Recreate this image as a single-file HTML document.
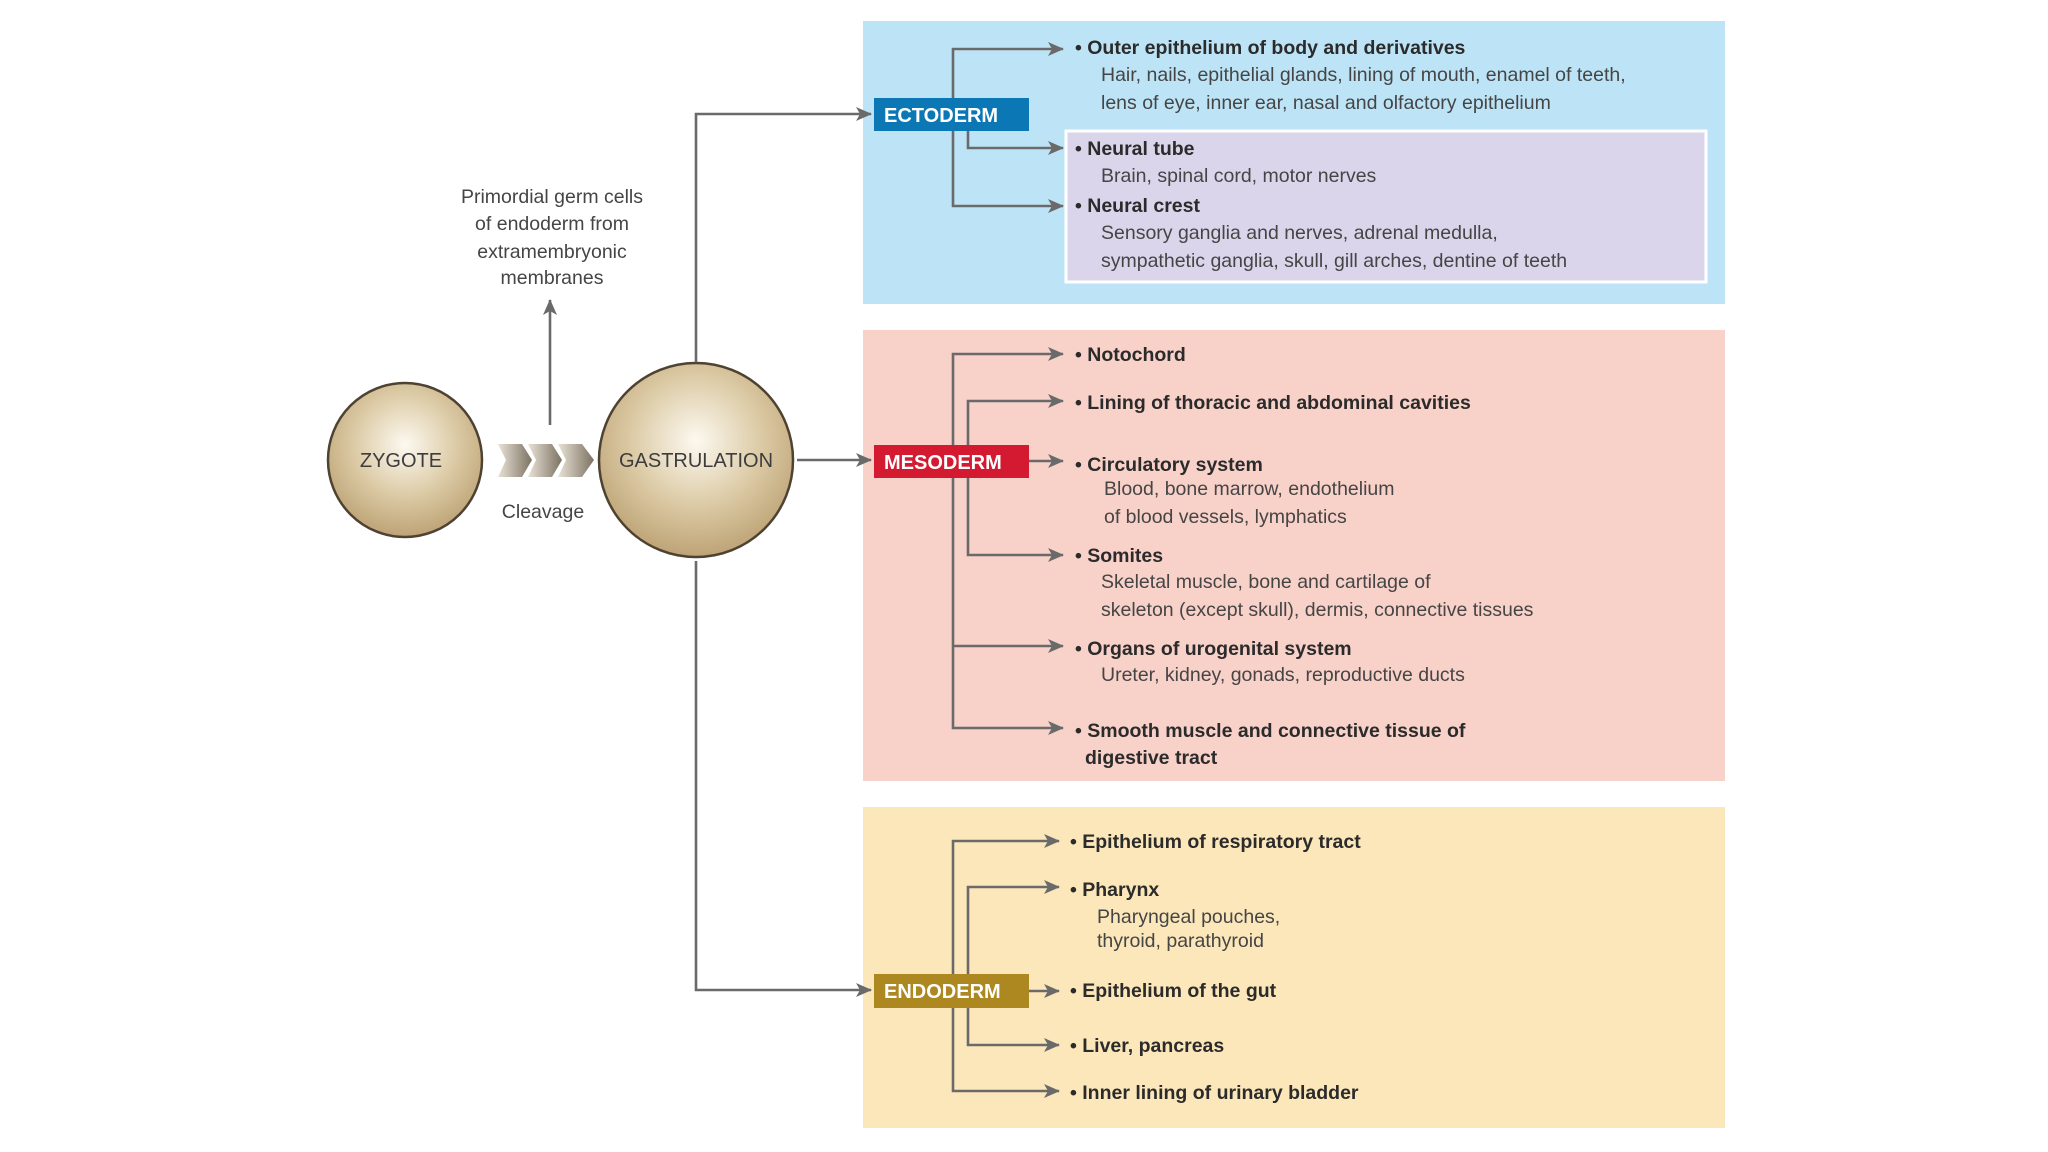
<!DOCTYPE html>
<html><head><meta charset="utf-8"><style>
html,body{margin:0;padding:0;background:#fff;width:2048px;height:1152px;overflow:hidden}
svg text{font-family:"Liberation Sans",sans-serif}
.b{font-weight:bold;font-size:19.5px;fill:#2b2b2b}
.s{font-size:19.5px;fill:#454545}
.lbl{font-weight:bold;font-size:20px;fill:#fff}
.c{fill:none;stroke:#6a6a6a;stroke-width:2.6}
</style></head><body>
<svg width="2048" height="1152" viewBox="0 0 2048 1152" xmlns="http://www.w3.org/2000/svg">
<defs>
<radialGradient id="g" cx="50%" cy="40%" r="60%">
<stop offset="0" stop-color="#fdf9f1"/><stop offset="0.55" stop-color="#dccba6"/><stop offset="1" stop-color="#bea376"/>
</radialGradient>
<linearGradient id="ch" x1="0" x2="1"><stop offset="0" stop-color="#e8e2d6"/><stop offset="1" stop-color="#7d7262"/></linearGradient>
<marker id="a" markerWidth="10" markerHeight="10" refX="9" refY="5" orient="auto" markerUnits="userSpaceOnUse"><path d="M0,0 L16,5 L0,10 Z" transform="scale(0.6,1)" fill="#6a6a6a"/></marker>
<marker id="ar" markerWidth="16" markerHeight="14" refX="15" refY="7" orient="auto" markerUnits="userSpaceOnUse"><path d="M0,0 L16,7 L0,14 L4,7 Z" fill="#6a6a6a"/></marker>
</defs>

<!-- boxes -->
<rect x="863" y="21" width="862" height="283" fill="#bde4f6"/>
<rect x="1066" y="131" width="640" height="151" fill="#dad5eb" stroke="#fff" stroke-width="3"/>
<rect x="863" y="330" width="862" height="451" fill="#f8d1c9"/>
<rect x="863" y="807" width="862" height="321" fill="#fce7ba"/>

<!-- left part -->
<circle cx="405" cy="460" r="77" fill="url(#g)" stroke="#4e4232" stroke-width="2.5"/>
<text x="401" y="467" font-size="20" fill="#3d3d3d" text-anchor="middle">ZYGOTE</text>
<circle cx="696" cy="460" r="97" fill="url(#g)" stroke="#4e4232" stroke-width="2.5"/>
<text x="696" y="467" font-size="20" fill="#3d3d3d" text-anchor="middle">GASTRULATION</text>
<g fill="url(#ch)">
<path d="M498,444 L522,444 L532,460 L522,477 L498,477 L506,460 Z"/>
<path d="M528,444 L552,444 L562,460 L552,477 L528,477 L536,460 Z"/>
<path d="M558,444 L582,444 L594,460 L582,477 L558,477 L566,460 Z"/>
</g>
<text x="543" y="518" font-size="19.5" fill="#454545" text-anchor="middle">Cleavage</text>
<line x1="550" y1="425" x2="550" y2="300" class="c" marker-end="url(#ar)"/>
<g font-size="19.5" fill="#454545" text-anchor="middle">
<text x="552" y="203">Primordial germ cells</text>
<text x="552" y="230">of endoderm from</text>
<text x="552" y="258">extramembryonic</text>
<text x="552" y="284">membranes</text>
</g>
<path d="M696,362 V114 H871" class="c" marker-end="url(#ar)"/>
<path d="M797,460 H871" class="c" marker-end="url(#ar)"/>
<path d="M696,561 V990 H871" class="c" marker-end="url(#ar)"/>

<!-- labels -->
<rect x="874" y="98" width="155" height="33" fill="#0b78b5"/>
<text x="884" y="122" class="lbl">ECTODERM</text>
<rect x="874" y="445" width="155" height="33" fill="#d41a30"/>
<text x="884" y="469" class="lbl">MESODERM</text>
<rect x="874" y="974" width="155" height="34" fill="#ad871f"/>
<text x="884" y="998" class="lbl">ENDODERM</text>

<!-- ecto connectors -->
<path d="M953,98 V49 H1063" class="c" marker-end="url(#ar)"/>
<path d="M953,131 V206 H1063" class="c" marker-end="url(#ar)"/>
<path d="M968,131 V148 H1063" class="c" marker-end="url(#ar)"/>
<!-- meso connectors -->
<path d="M953,445 V354 H1063" class="c" marker-end="url(#ar)"/>
<path d="M953,478 V728 H1063" class="c" marker-end="url(#ar)"/>
<path d="M953,646 H1063" class="c" marker-end="url(#ar)"/>
<path d="M968,445 V401 H1063" class="c" marker-end="url(#ar)"/>
<path d="M968,478 V555 H1063" class="c" marker-end="url(#ar)"/>
<path d="M1029,461 H1063" class="c" marker-end="url(#ar)"/>
<!-- endo connectors -->
<path d="M953,974 V841 H1059" class="c" marker-end="url(#ar)"/>
<path d="M953,1008 V1091 H1059" class="c" marker-end="url(#ar)"/>
<path d="M968,974 V887 H1059" class="c" marker-end="url(#ar)"/>
<path d="M968,1008 V1045 H1059" class="c" marker-end="url(#ar)"/>
<path d="M1029,991 H1059" class="c" marker-end="url(#ar)"/>

<!-- ecto text -->
<text x="1075" y="54" class="b">• Outer epithelium of body and derivatives</text>
<text x="1101" y="81" class="s">Hair, nails, epithelial glands, lining of mouth, enamel of teeth,</text>
<text x="1101" y="109" class="s">lens of eye, inner ear, nasal and olfactory epithelium</text>
<text x="1075" y="155" class="b">• Neural tube</text>
<text x="1101" y="182" class="s">Brain, spinal cord, motor nerves</text>
<text x="1075" y="212" class="b">• Neural crest</text>
<text x="1101" y="239" class="s">Sensory ganglia and nerves, adrenal medulla,</text>
<text x="1101" y="267" class="s">sympathetic ganglia, skull, gill arches, dentine of teeth</text>

<!-- meso text -->
<text x="1075" y="361" class="b">• Notochord</text>
<text x="1075" y="409" class="b">• Lining of thoracic and abdominal cavities</text>
<text x="1075" y="471" class="b">• Circulatory system</text>
<text x="1104" y="495" class="s">Blood, bone marrow, endothelium</text>
<text x="1104" y="523" class="s">of blood vessels, lymphatics</text>
<text x="1075" y="562" class="b">• Somites</text>
<text x="1101" y="588" class="s">Skeletal muscle, bone and cartilage of</text>
<text x="1101" y="616" class="s">skeleton (except skull), dermis, connective tissues</text>
<text x="1075" y="655" class="b">• Organs of urogenital system</text>
<text x="1101" y="681" class="s">Ureter, kidney, gonads, reproductive ducts</text>
<text x="1075" y="737" class="b">• Smooth muscle and connective tissue of</text>
<text x="1085" y="764" class="b">digestive tract</text>

<!-- endo text -->
<text x="1070" y="848" class="b">• Epithelium of respiratory tract</text>
<text x="1070" y="896" class="b">• Pharynx</text>
<text x="1097" y="923" class="s">Pharyngeal pouches,</text>
<text x="1097" y="947" class="s">thyroid, parathyroid</text>
<text x="1070" y="997" class="b">• Epithelium of the gut</text>
<text x="1070" y="1052" class="b">• Liver, pancreas</text>
<text x="1070" y="1099" class="b">• Inner lining of urinary bladder</text>
</svg>
</body></html>
